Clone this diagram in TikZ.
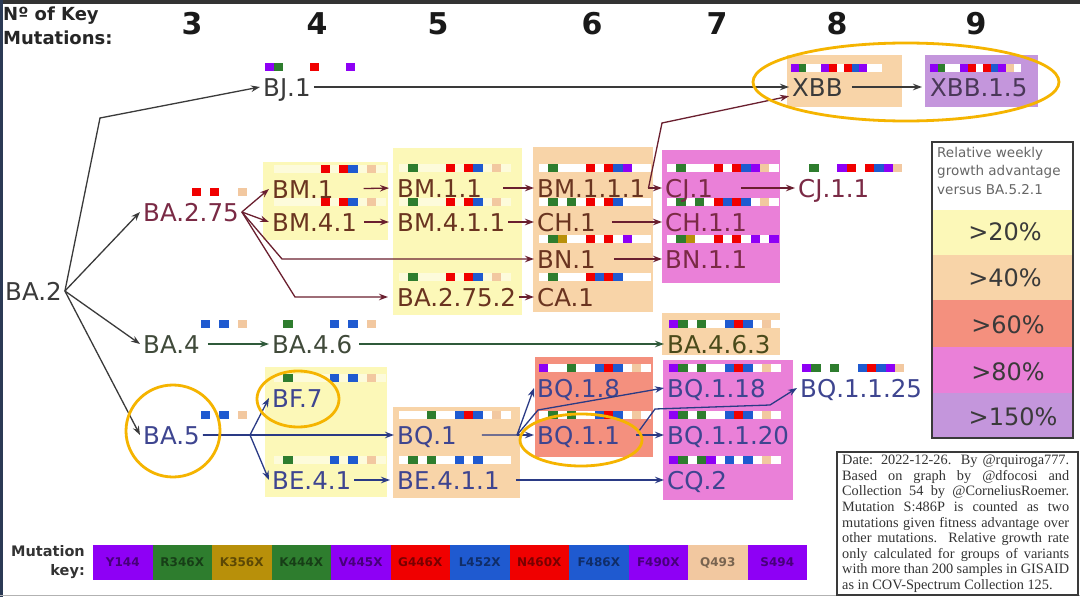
\documentclass[tikz,border=0pt]{standalone}
\usepackage{fontspec}
\setmainfont{DejaVu Sans}
\newfontfamily\notefont{Liberation Serif}
\usetikzlibrary{arrows.meta}
\definecolor{mP}{HTML}{8E00F5}
\definecolor{mG}{HTML}{2E7D2E}
\definecolor{mO}{HTML}{B8900A}
\definecolor{mR}{HTML}{F00000}
\definecolor{mB}{HTML}{1F5AD0}
\definecolor{mT}{HTML}{F2C8A0}
\definecolor{bY}{HTML}{FCF8B8}
\definecolor{bT}{HTML}{F8D4A8}
\definecolor{bS}{HTML}{F4907E}
\definecolor{bK}{HTML}{EA80D8}
\definecolor{bL}{HTML}{C496DC}
\definecolor{cGray}{HTML}{3A3A3A}
\definecolor{cMar}{HTML}{7A2A45}
\definecolor{cBrown}{HTML}{6A3420}
\definecolor{cOl}{HTML}{404A3A}
\definecolor{cOl2}{HTML}{4A4A1A}
\definecolor{cNavy}{HTML}{3E4590}
\definecolor{cPur}{HTML}{4A3858}
\definecolor{frameC}{HTML}{2B3A55}
\definecolor{eMar}{HTML}{6A1F2F}
\definecolor{eGrn}{HTML}{2F5A3A}
\definecolor{eNavy}{HTML}{2A3A85}
\definecolor{ring}{HTML}{F5B400}
\newcommand\mutsq[4]{\foreach \s/\cc in {#4}{\fill[\cc] ({#1+(\s-1)*#3},{#2-24}) rectangle ++(#3,8);}}
\newcommand\mutws[3]{\fill[white] ({#1},{#2-24}) rectangle ++({12*#3},8);}
\newcommand\vlab[5]{\node[lab,text=#4] (#1) at ({#2-3},#3) {#5};}
\begin{document}
\begin{tikzpicture}[x=1pt,y=-1pt,
  lab/.style={font=\fontsize{24.5}{26}\selectfont, inner xsep=3pt, inner ysep=0pt, text height=18pt, text depth=0pt, anchor=west},
  edge/.style={-{Stealth[length=9pt,width=6.5pt]}, line width=1.3pt},
  ringst/.style={draw=ring, line width=2.8pt},
  num/.style={font=\bfseries\fontsize{30}{30}\selectfont, text=black!90, inner sep=0pt},
  keytxt/.style={font=\bfseries\fontsize{12}{12}\selectfont, inner sep=0pt},
  legtxt/.style={font=\fontsize{24}{24}\selectfont, text=cGray, inner sep=0pt}]
\useasboundingbox (0,0) rectangle (1080,597);
\fill[white] (0,0) rectangle (1080,597);
% frame
\fill[black!80] (0,0) rectangle (1080,4);
\fill[frameC] (0,0) rectangle (3,597);
\draw[gray!60, line width=1pt] (0,595) -- (1080,595);

% header
\node[anchor=north west, align=left, inner sep=0pt, font=\bfseries\fontsize{18}{24}\selectfont, text=black!85] (hdr) at (3,7) {Nº of Key\\Mutations:};
\foreach \n/\x in {3/192,4/317,5/438,6/592,7/717,8/837,9/976}{
  \node[num] (num\n) at (\x,24) {\n};}

% coloured groups
\fill[bY] (263,162) rectangle (388,240);
\fill[bY] (393,148) rectangle (522,315);
\fill[bT] (533,147) rectangle (653,312);
\fill[bK] (662,150) rectangle (780,283);
\fill[bT] (787,55) rectangle (902,107);
\fill[bL] (925,55) rectangle (1038,107);
\fill[bT] (662,313) rectangle (780,355);
\fill[bS] (535,357) rectangle (653,457);
\fill[bK] (663,360) rectangle (793,500);
\fill[bY] (265,367) rectangle (387,497);
\fill[bT] (393,407) rectangle (520,498);

% white strips
\mutws{791}{88}{7.6}
\mutws{930}{88}{7.6}
\foreach \x/\y in {539/188,539/222,539/259,539/297,539/388,539/435,667/188,667/222,667/259,669/344,669/388,669/435,669/480,399/435,399/480}{
  \mutws{\x}{\y}{9.3}}
\begin{scope}[opacity=0.5]
\foreach \x/\y in {274/189,274/222,274/398,274/480,399/188,399/222,399/297}{
  \mutws{\x}{\y}{9.3}}
\end{scope}

% mutation squares
\mutsq{265}{87}{9}{1/mP,2/mG,6/mR,10/mP}
\mutsq{791}{88}{7.6}{1/mP,2/mG,5/mP,6/mR,8/mR,9/mB,10/mP}
\mutsq{930}{88}{7.6}{1/mP,2/mG,5/mP,6/mR,8/mR,9/mB,10/mP,11/mT}
\mutsq{145}{212}{9.3}{6/mR,8/mR,11/mT}
\mutsq{145}{344}{9.3}{7/mB,9/mB,11/mT}
\mutsq{145}{435}{9.3}{7/mB,9/mB,11/mT}
\mutsq{274}{189}{9.3}{6/mR,8/mR,9/mB,11/mT}
\mutsq{274}{222}{9.3}{6/mR,8/mR,9/mB,11/mT}
\mutsq{274}{344}{9.3}{2/mG,7/mB,9/mB,11/mT}
\mutsq{274}{398}{9.3}{2/mG,7/mB,9/mB,11/mT}
\mutsq{274}{480}{9.3}{2/mG,7/mB,9/mB,11/mT}
\mutsq{399}{188}{9.3}{2/mG,6/mR,8/mR,9/mB,11/mT}
\mutsq{399}{222}{9.3}{2/mG,6/mR,8/mR,9/mB,11/mT}
\mutsq{399}{297}{9.3}{2/mG,6/mR,8/mR,9/mB,11/mT}
\mutsq{399}{435}{9.3}{4/mG,7/mB,8/mR,9/mB,11/mT}
\mutsq{399}{480}{9.3}{2/mG,4/mG,7/mB,9/mB}
\mutsq{539}{188}{9.3}{2/mG,6/mR,8/mR,9/mB,10/mP}
\mutsq{539}{222}{9.3}{2/mG,4/mG,6/mR,8/mR,9/mB}
\mutsq{539}{259}{9.3}{2/mG,3/mO,6/mR,8/mR,10/mP}
\mutsq{539}{297}{9.3}{2/mG,6/mR,7/mB,8/mR,9/mB}
\mutsq{539}{388}{9.3}{1/mP,4/mG,7/mB,8/mR,9/mB,11/mT}
\mutsq{539}{435}{9.3}{2/mG,4/mG,7/mB,8/mR,9/mB,11/mT}
\mutsq{667}{188}{9.3}{2/mG,6/mR,8/mR,9/mB,10/mP,11/mT}
\mutsq{667}{222}{9.3}{2/mG,4/mG,6/mR,7/mB,8/mR,9/mB,11/mT}
\mutsq{667}{259}{9.3}{2/mG,3/mO,6/mR,8/mR,10/mP,12/mP}
\mutsq{669}{344}{9.3}{1/mP,2/mG,4/mG,7/mB,8/mR,9/mB,11/mT}
\mutsq{669}{388}{9.3}{1/mP,2/mG,4/mG,7/mB,8/mR,9/mB,11/mT}
\mutsq{669}{435}{9.3}{1/mP,2/mG,4/mG,7/mB,8/mR,9/mB,11/mT}
\mutsq{669}{480}{9.3}{1/mP,2/mG,4/mG,5/mP,7/mB,9/mB,11/mT}
\mutsq{800}{188}{9.3}{2/mG,5/mP,6/mR,8/mR,9/mB,10/mP,11/mT}
\mutsq{802}{388}{9.3}{1/mP,2/mG,4/mG,7/mB,8/mR,9/mB,10/mP,11/mT}

% labels
\vlab{BA2}{5}{291}{cGray}{BA.2}
\vlab{BJ1}{263}{87}{cGray}{BJ.1}
\vlab{XBB}{792}{87}{cGray}{XBB}
\vlab{XBB15}{930}{87}{cPur}{XBB.1.5}
\vlab{BA275}{143}{212}{cMar}{BA.2.75}
\vlab{BA4}{143}{344}{cOl}{BA.4}
\vlab{BA5}{143}{435}{cNavy}{BA.5}
\vlab{BM1}{272}{189}{cBrown}{BM.1}
\vlab{BM41}{272}{222}{cBrown}{BM.4.1}
\vlab{BA46}{272}{344}{cOl}{BA.4.6}
\vlab{BF7}{272}{398}{cNavy}{BF.7}
\vlab{BE41}{272}{480}{cNavy}{BE.4.1}
\vlab{BM11}{397}{188}{cBrown}{BM.1.1}
\vlab{BM411}{397}{222}{cBrown}{BM.4.1.1}
\vlab{BA2752}{397}{297}{cBrown}{BA.2.75.2}
\vlab{BQ1}{397}{435}{cNavy}{BQ.1}
\vlab{BE411}{397}{480}{cNavy}{BE.4.1.1}
\vlab{BM111}{537}{188}{cBrown}{BM.1.1.1}
\vlab{CH1}{537}{222}{cBrown}{CH.1}
\vlab{BN1}{537}{259}{cBrown}{BN.1}
\vlab{CA1}{537}{297}{cBrown}{CA.1}
\vlab{BQ18}{537}{388}{cNavy}{BQ.1.8}
\vlab{BQ11}{537}{435}{cNavy}{BQ.1.1}
\vlab{CJ1}{665}{188}{cMar}{CJ.1}
\vlab{CH11}{665}{222}{cMar}{CH.1.1}
\vlab{BN11}{665}{259}{cMar}{BN.1.1}
\vlab{BA463}{667}{344}{cOl2}{BA.4.6.3}
\vlab{BQ118}{667}{388}{cNavy}{BQ.1.18}
\vlab{BQ1120}{667}{435}{cNavy}{BQ.1.1.20}
\vlab{CQ2}{667}{480}{cNavy}{CQ.2}
\vlab{CJ11}{798}{188}{cMar}{CJ.1.1}
\vlab{BQ1125}{800}{388}{cNavy}{BQ.1.1.25}

% junctions
\coordinate (jBJ) at (100,118);
\coordinate (jBN) at (282,259);
\coordinate (jCA) at (295,297);
\coordinate (jX) at (662,123);
\coordinate (j5) at (250,435);
\coordinate (jq) at (517,435);
\coordinate (jq18) at (538,410);
\coordinate (jr1) at (655,409);
\coordinate (jr2) at (770,405);

% edges from BA.2
\draw[edge,cGray] (BA2.east) -- (jBJ) -- (BJ1.west);
\draw[edge,cGray] (BA2.east) -- (BA275.west);
\draw[edge,cGray] (BA2.east) -- (BA4.west);
\draw[edge,cGray] (BA2.east) -- (BA5.west);
\draw[edge,cGray] (BJ1.east) -- (XBB.west);
\draw[edge,cGray,shorten <=6pt,shorten >=5pt] (XBB.east) -- (XBB15.west);
% BA.2.75 family
\draw[edge,eMar] (BA275.east) -- (BM1.west);
\draw[edge,eMar] (BA275.east) -- (BM41.west);
\draw[edge,eMar] (BA275.east) -- (jBN) -- (BN1.west);
\draw[edge,eMar,shorten >=6pt] (BA275.east) -- (jCA) -- (BA2752.west);
\draw[edge,eMar,shorten <=27pt,shorten >=5pt] (BM1.east) -- (BM11.west);
\draw[edge,eMar,shorten <=4pt,shorten >=5pt] (BM41.east) -- (BM411.west);
\draw[edge,eMar,shorten <=18pt] (BM11.east) -- (BM111.west);
\draw[edge,eMar] (BM411.east) -- (CH1.west);
\draw[edge,eMar] (BA2752.east) -- (CA1.west);
\draw[edge,eMar] (BM111.east) -- (CJ1.west);
\draw[edge,eMar] (BM111.east) -- (jX) -- (XBB.south west);
\draw[edge,eMar,shorten <=13pt] (CH1.east) -- (CH11.west);
\draw[edge,eMar,shorten <=15pt] (BN1.east) -- (BN11.west);
\draw[edge,eMar,shorten <=25pt] (CJ1.east) -- (CJ11.west);
% BA.4 family
\draw[edge,eGrn,shorten <=5pt] (BA4.east) -- (BA46.west);
\draw[edge,eGrn,shorten <=4pt] (BA46.east) -- (BA463.west);
% BA.5 family
\draw[edge,eNavy] (BA5.east) -- (j5) -- (BF7.west);
\draw[edge,eNavy] (BA5.east) -- (BQ1.west);
\draw[edge,eNavy] (j5) -- (BE41.west);
\draw[edge,eNavy,shorten >=4pt] (BE41.east) -- (BE411.west);
\draw[edge,eNavy,shorten <=22pt] (BQ1.east) -- (jq) -- (BQ18.west);
\draw[edge,eNavy] (jq) -- (BQ11.west);
\draw[edge,eNavy] (jq) -- (jq18) -- (BQ118.west);
\draw[edge,eNavy,shorten <=13pt] (BQ11.east) -- (BQ1120.west);
\draw[edge,eNavy] ([xshift=15pt,yshift=3pt]BQ11.east) -- (jr1) -- (jr2) -- (BQ1125.west);
\draw[edge,eNavy,shorten <=13pt] (BE411.east) -- (CQ2.west);

% legend
\fill[bY] (932,210) rectangle (1073,255);
\fill[bT] (932,255) rectangle (1073,300);
\fill[bS] (932,300) rectangle (1073,347);
\fill[bK] (932,347) rectangle (1073,393);
\fill[bL] (932,393) rectangle (1073,438);
\draw[cGray, line width=1.3pt] (932,142) rectangle (1073,438);
\node[anchor=north west, align=left, inner sep=0pt, font=\fontsize{13.5}{18.5}\selectfont, text=black!60] (legh) at (937,147) {Relative weekly\\growth advantage\\versus BA.5.2.1};
\node[legtxt] (l20) at (1005,232) {>20\%};
\node[legtxt] (l40) at (1005,278) {>40\%};
\node[legtxt] (l60) at (1008,325) {>60\%};
\node[legtxt] (l80) at (1008,372) {>80\%};
\node[legtxt] (l150) at (1013,417) {>150\%};

% note
\draw[cGray, line width=1.2pt] (837,452) rectangle (1078,595);
\node[anchor=north west, align=left, inner sep=0pt, font=\notefont\fontsize{14.3}{15.6}\selectfont, text=black!80] (note) at (842,455) {%
\makebox[227pt][s]{Date: 2022-12-26. By @rquiroga777.}\\
\makebox[227pt][s]{Based on graph by @dfocosi and}\\
\makebox[227pt][s]{Collection 54 by @CorneliusRoemer.}\\
\makebox[227pt][s]{Mutation S:486P is counted as two}\\
\makebox[227pt][s]{mutations given fitness advantage over}\\
\makebox[227pt][s]{other mutations. Relative growth rate}\\
\makebox[227pt][s]{only calculated for groups of variants}\\
\makebox[227pt][s]{with more than 200 samples in GISAID}\\
as in COV-Spectrum Collection 125.};

% mutation key
\node[anchor=east, align=right, inner sep=0pt, font=\bfseries\fontsize{14.5}{19}\selectfont, text=black!80] (mkey) at (85,562) {Mutation\\key:};
\foreach \i/\cc/\t in {1/mP/Y144,2/mG/R346X,3/mO/K356X,4/mG/K444X,5/mP/V445X,6/mR/G446X,7/mB/L452X,8/mR/N460X,9/mB/F486X,10/mP/F490X,11/mT/Q493,12/mP/S494}{
  \fill[\cc] ({93+(\i-1)*59.5},545) rectangle ++(59.5,35);
  \node[keytxt, text=\cc!50!black] (key\i) at ({93+(\i-0.5)*59.5},562.5) {\t};
}

% highlight rings
\draw[ringst] (906,82) ellipse [x radius=153pt, y radius=39pt];
\draw[ringst] (173,431) ellipse [x radius=47pt, y radius=46pt];
\draw[ringst] (298,399) ellipse [x radius=41pt, y radius=28pt];
\draw[ringst] (581,440) ellipse [x radius=61pt, y radius=26pt];
\end{tikzpicture}
\end{document}
